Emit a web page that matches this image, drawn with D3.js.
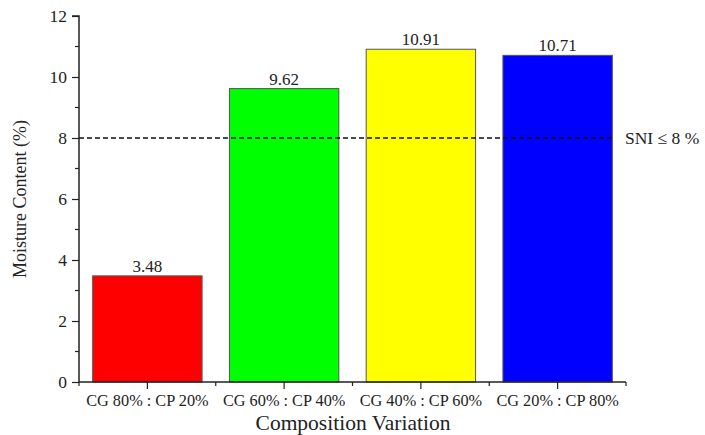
<!DOCTYPE html>
<html><head><meta charset="utf-8">
<script src="https://cdn.jsdelivr.net/npm/d3@7/dist/d3.min.js"></script>
<style>body{margin:0;background:#fff}svg{display:block}text{font-family:"Liberation Serif","Times New Roman",serif;fill:#222}</style>
</head><body><svg id="c" width="705" height="435"></svg>
<script>
const categories = ["CG 80% : CP 20%", "CG 60% : CP 40%", "CG 40% : CP 60%", "CG 20% : CP 80%"];
const values = [3.48, 9.62, 10.91, 10.71];
const colors = ["#ff0000", "#00ff00", "#ffff00", "#0000ff"];
const yTicks = [0, 2, 4, 6, 8, 10, 12];
const yMinor = [1, 3, 5, 7, 9, 11];
const limit = 8;
const limitLabel = "SNI \u2264 8 %";

(function () {
const svg = d3.select("#c");
const mL = 79, mR = 626, mT = 16, mB = 382;
const x = d3.scaleBand().domain(categories).range([mL, mR]).paddingInner(0.2).paddingOuter(0.1);
const xb = d3.scaleBand().domain(categories).range([mL, mR]);
const y = d3.scaleLinear().domain([0, 12]).range([mB, mT]);

// bars
svg.selectAll("rect.bar").data(values).enter().append("rect")
  .attr("x", (d, i) => x(categories[i]))
  .attr("width", x.bandwidth())
  .attr("y", d => y(d))
  .attr("height", d => y(0) - y(d))
  .attr("fill", (d, i) => colors[i])
  .attr("stroke", "#555").attr("stroke-width", 1);

// value labels
svg.selectAll("text.val").data(values).enter().append("text")
  .attr("x", (d, i) => x(categories[i]) + x.bandwidth() / 2)
  .attr("y", d => y(d) - 4)
  .attr("text-anchor", "middle").attr("font-size", 17)
  .text(d => d.toFixed(2));

// limit line
svg.append("line").attr("x1", mL).attr("x2", 615)
  .attr("y1", y(limit)).attr("y2", y(limit))
  .attr("stroke", "#111").attr("stroke-width", 1.5).attr("stroke-dasharray", "5,3");
svg.append("text").attr("x", 625).attr("y", y(limit) + 6)
  .attr("font-size", 17.5).text(limitLabel);

// y axis
const ya = svg.append("g").attr("transform", `translate(${mL},0)`)
  .call(d3.axisLeft(y).tickValues(yTicks).tickSize(7).tickPadding(5).tickFormat(d3.format("d")));
ya.append("g").selectAll("line").data(yMinor).enter().append("line")
  .attr("x1", -4).attr("x2", 0).attr("y1", d => y(d)).attr("y2", d => y(d)).attr("stroke", "#222").attr("stroke-width", 1.2);
ya.select(".domain").attr("d", `M0,${mB}V${mT}H-7`).attr("stroke", "#222").attr("stroke-width", 1.5);
ya.selectAll(".tick line").attr("stroke", "#222").attr("stroke-width", 1.2);
ya.selectAll("text").attr("font-size", 17.5).attr("fill", "#222").attr("font-family", "Liberation Serif");

// x axis
const xa = svg.append("g").attr("transform", `translate(0,${mB})`)
  .call(d3.axisBottom(xb).tickSize(7).tickPadding(5));
xa.append("g").selectAll("line").data(categories.map((c) => xb(c)).concat([mR])).enter().append("line")
  .attr("x1", d => d).attr("x2", d => d).attr("y1", 0).attr("y2", 4).attr("stroke", "#222").attr("stroke-width", 1.2);
xa.select(".domain").attr("d", `M${mL},0H${mR}`).attr("stroke", "#222").attr("stroke-width", 1.5);
xa.selectAll(".tick line").attr("stroke", "#222").attr("stroke-width", 1.2);
xa.selectAll("text").attr("font-size", 16.3).attr("fill", "#222").attr("font-family", "Liberation Serif");

// axis titles
svg.append("text").attr("transform", `translate(26,${(mT + mB) / 2}) rotate(-90)`)
  .attr("text-anchor", "middle").attr("font-size", 18).text("Moisture Content (%)");
svg.append("text").attr("x", 353).attr("y", 430)
  .attr("text-anchor", "middle").attr("font-size", 21.5).text("Composition Variation");
})();
</script></body></html>
